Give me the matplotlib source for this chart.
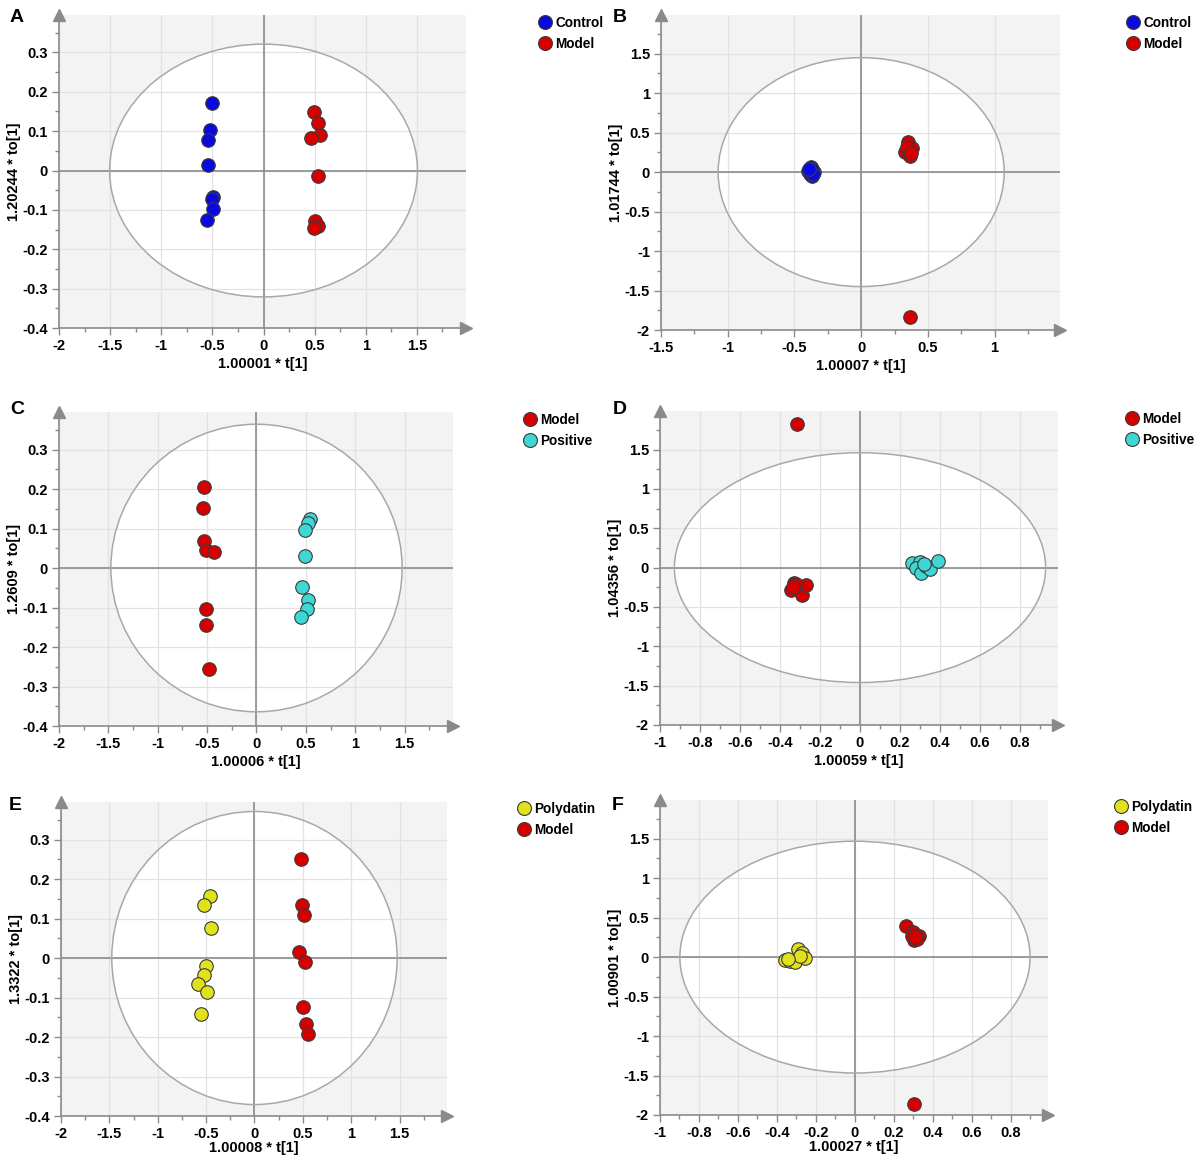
import matplotlib
matplotlib.use("Agg")
import matplotlib.pyplot as plt
from matplotlib.patches import Ellipse
from matplotlib.ticker import MultipleLocator, AutoMinorLocator, FuncFormatter
from matplotlib.lines import Line2D

plt.rcParams["font.family"] = ["Liberation Sans", "DejaVu Sans"]

W, H = 1195, 1155

# ---- data ----
a_control_x = [-0.506, -0.522, -0.542, -0.542, -0.490, -0.506, -0.496, -0.555]
a_control_y = [0.171, 0.103, 0.078, 0.014, -0.066, -0.073, -0.098, -0.125]
a_model_x = [0.496, 0.532, 0.552, 0.467, 0.532, 0.503, 0.535, 0.496]
a_model_y = [0.149, 0.121, 0.090, 0.083, -0.013, -0.128, -0.142, -0.146]

b_control_x = [-0.375, -0.400, -0.355, -0.367, -0.385, -0.370, -0.360, -0.390]
b_control_y = [0.070, 0.010, 0.000, -0.055, -0.020, 0.035, -0.030, 0.040]
b_model_x = [0.350, 0.383, 0.325, 0.365, 0.357, 0.340, 0.375, 0.365]
b_model_y = [0.378, 0.300, 0.252, 0.210, 0.273, 0.320, 0.240, -1.840]

c_model_x = [-0.536, -0.546, -0.532, -0.515, -0.430, -0.515, -0.515, -0.481]
c_model_y = [0.206, 0.151, 0.069, 0.045, 0.040, -0.105, -0.144, -0.255]
c_positive_x = [0.546, 0.519, 0.495, 0.490, 0.464, 0.522, 0.512, 0.451]
c_positive_y = [0.124, 0.115, 0.097, 0.031, -0.048, -0.082, -0.103, -0.124]

d_model_x = [-0.315, -0.330, -0.343, -0.313, -0.290, -0.268, -0.320, -0.333]
d_model_y = [1.830, -0.190, -0.290, -0.260, -0.350, -0.220, -0.210, -0.250]
d_positive_x = [0.262, 0.300, 0.278, 0.307, 0.328, 0.348, 0.392, 0.320]
d_positive_y = [0.063, 0.070, -0.010, -0.070, 0.020, -0.020, 0.083, 0.040]

e_polydatin_x = [-0.463, -0.519, -0.449, -0.498, -0.526, -0.582, -0.491, -0.557]
e_polydatin_y = [0.157, 0.134, 0.076, -0.019, -0.044, -0.065, -0.087, -0.141]
e_model_x = [0.481, 0.491, 0.509, 0.456, 0.526, 0.502, 0.537, 0.557]
e_model_y = [0.250, 0.133, 0.109, 0.014, -0.009, -0.124, -0.168, -0.193]

f_polydatin_x = [-0.361, -0.332, -0.306, -0.292, -0.272, -0.255, -0.284, -0.345]
f_polydatin_y = [-0.038, -0.050, -0.067, 0.105, 0.055, -0.008, 0.013, -0.030]
f_model_x = [0.263, 0.297, 0.327, 0.304, 0.318, 0.292, 0.310, 0.301]
f_model_y = [0.400, 0.315, 0.265, 0.214, 0.230, 0.273, 0.250, -1.860]

BLUE = "#0a0ae0"
RED = "#d60000"
CYAN = "#3fd6d6"
YELLOW = "#e2e21a"

# each panel: box in pixels (left, right, top, bottom), limits, tick steps, ellipse radii,
# labels, groups, legend and letter positions
panels = [
    dict(letter="A", box=(59, 466, 15, 328), xlim=(-2, 1.98), ylim=(-0.4, 0.395),
         xstep=0.5, ystep=0.1, ell=(1.505, 0.321),
         xlabel="1.00001 * t[1]", ylabel="1.20244 * to[1]",
         groups=[("Control", a_control_x, a_control_y, BLUE),
                 ("Model", a_model_x, a_model_y, RED)],
         leg=(538, 16), lab=(17, 18), xlab_off=29),
    dict(letter="B", box=(661, 1060, 15, 330), xlim=(-1.5, 1.49), ylim=(-2, 1.99),
         xstep=0.5, ystep=0.5, ell=(1.072, 1.45),
         xlabel="1.00007 * t[1]", ylabel="1.01744 * to[1]",
         groups=[("Control", b_control_x, b_control_y, BLUE),
                 ("Model", b_model_x, b_model_y, RED)],
         leg=(1126, 16), lab=(620, 18), xlab_off=29),
    dict(letter="C", box=(59, 453, 412, 726), xlim=(-2, 1.99), ylim=(-0.4, 0.395),
         xstep=0.5, ystep=0.1, ell=(1.475, 0.364),
         xlabel="1.00006 * t[1]", ylabel="1.2609 * to[1]",
         groups=[("Model", c_model_x, c_model_y, RED),
                 ("Positive", c_positive_x, c_positive_y, CYAN)],
         leg=(523, 413), lab=(17, 410), xlab_off=29),
    dict(letter="D", box=(660, 1058, 411, 725), xlim=(-1, 0.99), ylim=(-2, 1.99),
         xstep=0.2, ystep=0.5, ell=(0.928, 1.46),
         xlabel="1.00059 * t[1]", ylabel="1.04356 * to[1]",
         groups=[("Model", d_model_x, d_model_y, RED),
                 ("Positive", d_positive_x, d_positive_y, CYAN)],
         leg=(1125, 412), lab=(620, 410), xlab_off=29),
    dict(letter="E", box=(61, 447, 802, 1116), xlim=(-2, 1.99), ylim=(-0.4, 0.395),
         xstep=0.5, ystep=0.1, ell=(1.475, 0.371),
         xlabel="1.00008 * t[1]", ylabel="1.3322 * to[1]",
         groups=[("Polydatin", e_polydatin_x, e_polydatin_y, YELLOW),
                 ("Model", e_model_x, e_model_y, RED)],
         leg=(517, 802), lab=(15, 805), xlab_off=25),
    dict(letter="F", box=(660, 1048, 800, 1115), xlim=(-1, 0.99), ylim=(-2, 1.99),
         xstep=0.2, ystep=0.5, ell=(0.898, 1.468),
         xlabel="1.00027 * t[1]", ylabel="1.00901 * to[1]",
         groups=[("Polydatin", f_polydatin_x, f_polydatin_y, YELLOW),
                 ("Model", f_model_x, f_model_y, RED)],
         leg=(1114, 800), lab=(618, 805), xlab_off=25),
]

fig = plt.figure(figsize=(W / 100, H / 100), dpi=100)
fmt = FuncFormatter(lambda v, p: "%g" % round(v, 6))
axis_gray = "#8a8a8a"

for p in panels:
    l, r, t, b = p["box"]
    ax = fig.add_axes([l / W, 1 - b / H, (r - l) / W, (b - t) / H])
    ax.set_xlim(*p["xlim"])
    ax.set_ylim(*p["ylim"])
    ax.set_facecolor("#f3f3f3")

    # white confidence ellipse (Hotelling T2)
    ax.add_patch(Ellipse((0, 0), 2 * p["ell"][0], 2 * p["ell"][1],
                         facecolor="white", edgecolor="none", zorder=0.5))
    ax.add_patch(Ellipse((0, 0), 2 * p["ell"][0], 2 * p["ell"][1],
                         facecolor="none", edgecolor="#a8a8a8", lw=1.1, zorder=2))

    ax.xaxis.set_major_locator(MultipleLocator(p["xstep"]))
    ax.yaxis.set_major_locator(MultipleLocator(p["ystep"]))
    ax.xaxis.set_minor_locator(AutoMinorLocator(2))
    ax.yaxis.set_minor_locator(AutoMinorLocator(2))
    ax.xaxis.set_major_formatter(fmt)
    ax.yaxis.set_major_formatter(fmt)
    ax.grid(True, which="major", color="#e2e2e2", lw=0.9, zorder=1)
    ax.set_axisbelow(True)

    ax.axhline(0, color="#8c8c8c", lw=1.2, zorder=1.5)
    ax.axvline(0, color="#8c8c8c", lw=1.2, zorder=1.5)

    for name, xs, ys, col in p["groups"]:
        ax.scatter(xs, ys, s=95, color=col, edgecolor="#3a3a3a", linewidth=0.8,
                   zorder=3, label=name)

    for side in ("top", "right"):
        ax.spines[side].set_visible(False)
    for side in ("left", "bottom"):
        ax.spines[side].set_color(axis_gray)
        ax.spines[side].set_linewidth(1.2)
    ax.plot(1, 0, ">", color=axis_gray, ms=8, transform=ax.transAxes, clip_on=False, zorder=5)
    ax.plot(0, 1, "^", color=axis_gray, ms=8, transform=ax.transAxes, clip_on=False, zorder=5)

    ax.tick_params(which="major", length=5, color=axis_gray, width=1, labelsize=10.5, pad=3)
    ax.tick_params(which="minor", length=3, color=axis_gray, width=1)
    for lbl in ax.get_xticklabels() + ax.get_yticklabels():
        lbl.set_fontweight("bold")

    ax.set_xlabel(p["xlabel"], fontsize=10.5, fontweight="bold")
    ax.set_ylabel(p["ylabel"], fontsize=10.5, fontweight="bold")
    ax.xaxis.set_label_coords(0.5, -p["xlab_off"] / (b - t))
    ax.yaxis.set_label_coords(-38 / (r - l), 0.5)

    handles = [Line2D([], [], marker="o", ls="none", ms=10, color=col,
                      markeredgecolor="#3a3a3a", markeredgewidth=0.8)
               for _, _, _, col in p["groups"]]
    names = [g[0] for g in p["groups"]]
    lx, ly = p["leg"]
    ax.legend(handles, names, loc="upper left", bbox_to_anchor=(lx / W, 1 - ly / H),
              bbox_transform=fig.transFigure, frameon=False, handletextpad=0.25,
              handlelength=1.0, borderpad=0, borderaxespad=0, labelspacing=0.5,
              prop={"size": 9.8, "weight": "bold"})

    fig.text(p["lab"][0] / W, 1 - p["lab"][1] / H, p["letter"], fontsize=14,
             fontweight="bold", ha="center", va="center")

fig.savefig("out.png", dpi=100)
